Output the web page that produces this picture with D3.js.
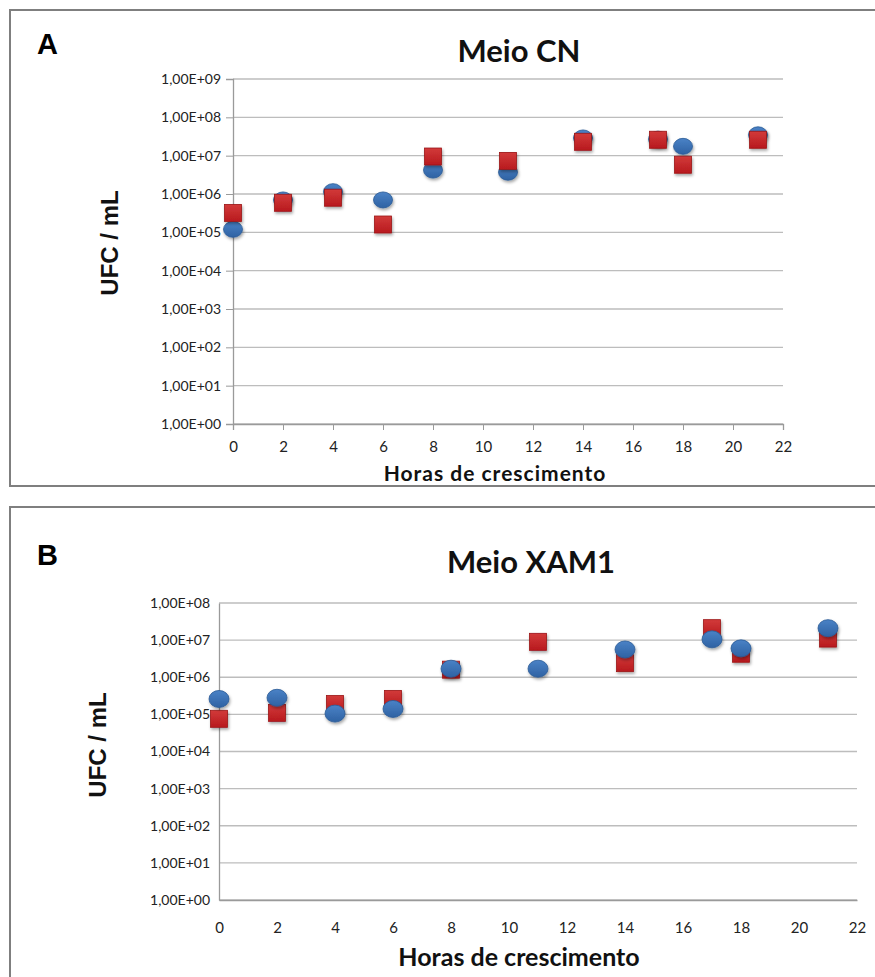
<!DOCTYPE html>
<html><head><meta charset="utf-8">
<script src="https://cdn.jsdelivr.net/npm/d3@7"></script>
<style>body{margin:0;background:#fff}svg{display:block}</style>
</head><body>
<svg id="c" width="875" height="977"></svg>
<script>
const hours = [0, 2, 4, 6, 8, 11, 14, 17, 18, 21];
const xTicks = [0, 2, 4, 6, 8, 10, 12, 14, 16, 18, 20, 22];
const yTicksA = [1e0,1e1,1e2,1e3,1e4,1e5,1e6,1e7,1e8,1e9];
const yTicksB = [1e0,1e1,1e2,1e3,1e4,1e5,1e6,1e7,1e8];
const yTickLabelsA = ["1,00E+00","1,00E+01","1,00E+02","1,00E+03","1,00E+04","1,00E+05","1,00E+06","1,00E+07","1,00E+08","1,00E+09"];
const yTickLabelsB = ["1,00E+00","1,00E+01","1,00E+02","1,00E+03","1,00E+04","1,00E+05","1,00E+06","1,00E+07","1,00E+08"];
// Panel A - Meio CN
const cnCircles = [1.2e5, 7.0e5, 1.15e6, 7.0e5, 4.2e6, 3.7e6, 2.9e7, 2.7e7, 1.75e7, 3.5e7];
const cnSquares = [3.2e5, 5.9e5, 8.0e5, 1.6e5, 9.5e6, 7.3e6, 2.3e7, 2.6e7, 5.8e6, 2.6e7];
// Panel B - Meio XAM1
const xamCircles = [2.6e5, 2.8e5, 1.05e5, 1.4e5, 1.7e6, 1.7e6, 5.6e6, 1.05e7, 6.0e6, 2.1e7];
const xamSquares = [7.6e4, 1.1e5, 1.9e5, 2.6e5, 1.6e6, 9.0e6, 2.4e6, 2.1e7, 4.3e6, 1.1e7];

const svg = d3.select("#c");
const defs = svg.append("defs");
const gb = defs.append("linearGradient").attr("id","gBlue").attr("x1",0).attr("y1",0).attr("x2",0).attr("y2",1);
gb.append("stop").attr("offset","0%").attr("stop-color","#4a82c6");
gb.append("stop").attr("offset","100%").attr("stop-color","#2f62a3");
const gr = defs.append("linearGradient").attr("id","gRed").attr("x1",0).attr("y1",0).attr("x2",0).attr("y2",1);
gr.append("stop").attr("offset","0%").attr("stop-color","#d23a3a");
gr.append("stop").attr("offset","100%").attr("stop-color","#b81a1e");
const sh = defs.append("filter").attr("id","shd").attr("x","-50%").attr("y","-50%").attr("width","200%").attr("height","200%");
sh.append("feDropShadow").attr("dx",1).attr("dy",2).attr("stdDeviation",1.5).attr("flood-color","#000").attr("flood-opacity",0.35);

const cal = "Lato, 'Open Sans', sans-serif";

function panel(cfg){
  const g = svg.append("g");
  g.append("rect").attr("x",cfg.box[0]).attr("y",cfg.box[1]).attr("width",cfg.box[2]).attr("height",cfg.box[3])
    .attr("fill","#fff").attr("stroke","#7f7f7f").attr("stroke-width",2);
  const x = d3.scaleLinear().domain([0,22]).range([cfg.left, cfg.right]);
  const y = d3.scaleLog().domain([1, cfg.yMax]).range([cfg.bottom, cfg.top]);
  // gridlines
  g.append("g").selectAll("line").data(cfg.yTicks).join("line")
    .attr("x1",cfg.left).attr("x2",cfg.right).attr("y1",d=>y(d)).attr("y2",d=>y(d))
    .attr("stroke","#bdbdbd").attr("stroke-width",1.3);
  // y axis
  const ya = d3.axisLeft(y).tickValues(cfg.yTicks).tickFormat((d,i)=>cfg.yLabels[i]).tickSize(cfg.ticks?7:0).tickPadding(cfg.ticks?5:9);
  const yg = g.append("g").attr("transform",`translate(${cfg.left},0)`).call(ya);
  yg.select(".domain").attr("stroke","#9a9a9a").attr("stroke-width",1.3);
  yg.selectAll(".tick line").attr("stroke","#9a9a9a");
  yg.selectAll("text").attr("font-family",cal).attr("font-size",cfg.yFont).attr("fill","#222");
  // x axis
  const xa = d3.axisBottom(x).tickValues(xTicks).tickFormat(d=>d).tickSize(cfg.ticks?6:0).tickPadding(cfg.xPad);
  const xg = g.append("g").attr("transform",`translate(0,${cfg.bottom})`).call(xa);
  xg.select(".domain").attr("stroke","#9a9a9a").attr("stroke-width",1.3);
  xg.selectAll(".tick line").attr("stroke","#9a9a9a");
  xg.selectAll("text").attr("font-family",cal).attr("font-size",cfg.xFont).attr("fill","#222");
  // texts
  g.append("text").attr("x",cfg.letter[0]).attr("y",cfg.letter[1]).text(cfg.letterText)
    .attr("font-family","'Liberation Sans', Arial, sans-serif").attr("font-weight","bold").attr("font-size",29);
  g.append("text").attr("x",cfg.title[0]).attr("y",cfg.title[1]).attr("text-anchor","middle").text(cfg.titleText)
    .attr("font-family",cal).attr("font-weight","bold").attr("font-size",cfg.titleFont).attr("fill","#111");
  g.append("text").attr("x",cfg.xTitle[0]).attr("y",cfg.xTitle[1]).attr("text-anchor","middle").text("Horas de crescimento")
    .attr("font-family",cal).attr("font-weight","bold").attr("font-size",cfg.xTitleFont)
    .attr("letter-spacing",cfg.xTitleLs).attr("fill","#111");
  g.append("text").attr("transform",`translate(${cfg.yTitle[0]},${cfg.yTitle[1]}) rotate(-90)`).attr("text-anchor","middle").text("UFC / mL")
    .attr("font-family","'Liberation Sans', Arial, sans-serif").attr("font-weight","bold").attr("font-size",24).attr("fill","#111");
  // markers
  const m = g.append("g");
  m.selectAll("ellipse").data(hours.map((h,i)=>[h,cfg.circles[i]])).join("ellipse")
    .attr("cx",d=>x(d[0])).attr("cy",d=>y(d[1])).attr("rx",cfg.rx).attr("ry",cfg.ry)
    .attr("fill","url(#gBlue)").attr("stroke","#2a5a96").attr("stroke-width",0.8).attr("filter","url(#shd)");
  const s = cfg.sq;
  m.selectAll("rect").data(hours.map((h,i)=>[h,cfg.squares[i]])).join("rect")
    .attr("x",d=>x(d[0])-s/2).attr("y",d=>y(d[1])-s/2).attr("width",s).attr("height",s)
    .attr("fill","url(#gRed)").attr("stroke","#9b1416").attr("stroke-width",0.8).attr("filter","url(#shd)");
  if(cfg.circlesOnTop) m.selectAll("ellipse").raise();
}

panel({box:[10,10,880,476], left:233, right:783, top:79, bottom:424, yMax:1e9,
  yTicks:yTicksA, yLabels:yTickLabelsA, ticks:true, yFont:14, xFont:15, xPad:11,
  letter:[37,54], letterText:"A", title:[519,62], titleText:"Meio CN", titleFont:31,
  xTitle:[495,481], xTitleFont:21, xTitleLs:1, yTitle:[118,243],
  circles:cnCircles, squares:cnSquares, rx:9.5, ry:8, sq:17, circlesOnTop:false});

panel({box:[10,507,880,480], left:219, right:857, top:603, bottom:900, yMax:1e8,
  yTicks:yTicksB, yLabels:yTickLabelsB, ticks:false, yFont:14, xFont:15, xPad:22,
  letter:[37,565], letterText:"B", title:[531,573], titleText:"Meio XAM1", titleFont:31,
  xTitle:[519,966], xTitleFont:25, xTitleLs:0, yTitle:[106,745],
  circles:xamCircles, squares:xamSquares, rx:10, ry:8.5, sq:17, circlesOnTop:true});
</script>
</body></html>
